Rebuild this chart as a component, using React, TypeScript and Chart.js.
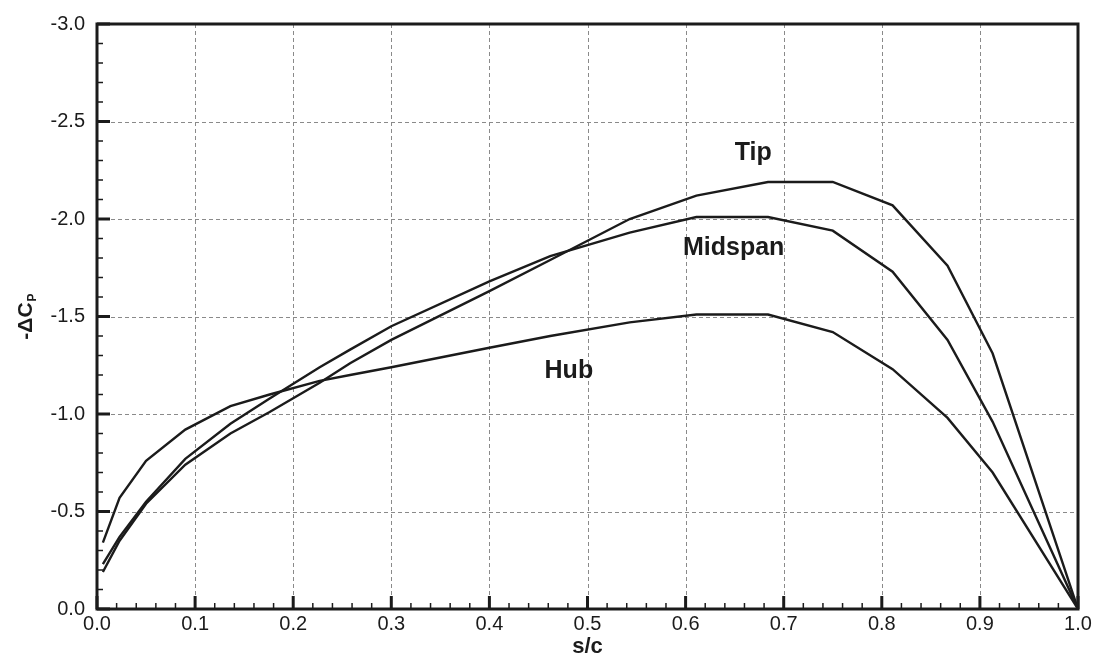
import { useEffect, useRef } from "react";
import { Chart, registerables } from "chart.js";

Chart.register(...registerables);

// Chordwise stations (s/c) shared by the three spanwise sections
const stations = [0.006, 0.023, 0.05, 0.09, 0.136, 0.176, 0.227, 0.258, 0.3, 0.4, 0.462, 0.543, 0.611, 0.684, 0.75, 0.811, 0.867, 0.913, 1.0];

// Blade loading -ΔCp at each station
const hubCp = [-0.34, -0.57, -0.76, -0.92, -1.04, -1.1, -1.17, -1.2, -1.24, -1.34, -1.4, -1.47, -1.51, -1.51, -1.42, -1.23, -0.98, -0.7, 0.0];
const midspanCp = [-0.23, -0.37, -0.55, -0.77, -0.95, -1.08, -1.24, -1.33, -1.45, -1.68, -1.81, -1.93, -2.01, -2.01, -1.94, -1.73, -1.38, -0.96, 0.0];
const tipCp = [-0.19, -0.35, -0.54, -0.74, -0.9, -1.01, -1.16, -1.26, -1.38, -1.63, -1.79, -2.0, -2.12, -2.19, -2.19, -2.07, -1.76, -1.31, 0.0];

// In-plot curve labels: [text, s/c, -ΔCp]
const curveLabels: [string, number, number][] = [
  ["Tip", 0.669, -2.34],
  ["Midspan", 0.649, -1.85],
  ["Hub", 0.481, -1.22],
];

const FONT = "'Liberation Sans', Arial, Helvetica, sans-serif";
const INK = "#1b1b1b";

const toPoints = (ys: number[]) => stations.map((x, i) => ({ x, y: ys[i] }));

const frame = {
  id: "frame",
  beforeDatasetsDraw(chart: any) {
    const { ctx, chartArea: a, scales } = chart;
    const sx = scales.x;
    const sy = scales.y;
    ctx.save();
    ctx.strokeStyle = "#8a8a8a";
    ctx.lineWidth = 1;
    ctx.setLineDash([4, 3]);
    for (let i = 1; i < 10; i++) {
      const px = Math.round(sx.getPixelForValue(i / 10)) + 0.5;
      ctx.beginPath();
      ctx.moveTo(px, a.top);
      ctx.lineTo(px, a.bottom);
      ctx.stroke();
    }
    for (let i = 1; i < 6; i++) {
      const py = Math.round(sy.getPixelForValue(-i / 2)) + 0.5;
      ctx.beginPath();
      ctx.moveTo(a.left, py);
      ctx.lineTo(a.right, py);
      ctx.stroke();
    }
    ctx.restore();
  },
  afterDraw(chart: any) {
    const { ctx, chartArea: a, scales } = chart;
    const sx = scales.x;
    const sy = scales.y;
    ctx.save();
    ctx.strokeStyle = INK;
    ctx.setLineDash([]);

    // inward tick marks on the bottom axis
    for (let i = 0; i <= 50; i++) {
      const major = i % 5 === 0;
      const px = sx.getPixelForValue(i / 50);
      ctx.lineWidth = major ? 3 : 1.5;
      ctx.beginPath();
      ctx.moveTo(px, a.bottom);
      ctx.lineTo(px, a.bottom - (major ? 13 : 6));
      ctx.stroke();
    }
    // inward tick marks on the left axis
    for (let i = 0; i <= 30; i++) {
      const major = i % 5 === 0;
      const py = sy.getPixelForValue(-i / 10);
      ctx.lineWidth = major ? 3 : 1.5;
      ctx.beginPath();
      ctx.moveTo(a.left, py);
      ctx.lineTo(a.left + (major ? 13 : 6), py);
      ctx.stroke();
    }

    // plot frame
    ctx.lineWidth = 3;
    ctx.strokeRect(a.left, a.top, a.right - a.left, a.bottom - a.top);

    // curve labels
    ctx.fillStyle = INK;
    ctx.font = `bold 25px ${FONT}`;
    ctx.textAlign = "center";
    ctx.textBaseline = "middle";
    for (const [text, x, y] of curveLabels) {
      ctx.fillText(text, sx.getPixelForValue(x), sy.getPixelForValue(y));
    }

    // x-axis title
    ctx.font = `bold 22px ${FONT}`;
    ctx.fillText("s/c", (a.left + a.right) / 2, 647);

    // y-axis title with subscript P
    ctx.translate(24, (a.top + a.bottom) / 2);
    ctx.rotate(-Math.PI / 2);
    ctx.textAlign = "left";
    ctx.textBaseline = "alphabetic";
    ctx.font = `bold 21px ${FONT}`;
    const main = "-\u0394C";
    const wMain = ctx.measureText(main).width;
    ctx.font = `bold 12px ${FONT}`;
    const wSub = ctx.measureText("P").width;
    const start = -(wMain + wSub + 1) / 2;
    ctx.font = `bold 21px ${FONT}`;
    ctx.fillText(main, start, 8);
    ctx.font = `bold 12px ${FONT}`;
    ctx.fillText("P", start + wMain + 1, 12);
    ctx.restore();
  },
};

export default function App() {
  const canvasRef = useRef<HTMLCanvasElement | null>(null);

  useEffect(() => {
    if (!canvasRef.current) return;
    const lineStyle = {
      showLine: true,
      borderColor: INK,
      borderWidth: 2.4,
      pointRadius: 0,
      fill: false,
      tension: 0,
    };
    const chart = new Chart(canvasRef.current, {
      type: "scatter",
      data: {
        datasets: [
          { label: "Hub", data: toPoints(hubCp), ...lineStyle },
          { label: "Midspan", data: toPoints(midspanCp), ...lineStyle },
          { label: "Tip", data: toPoints(tipCp), ...lineStyle },
        ],
      },
      options: {
        responsive: false,
        animation: false,
        layout: { padding: { top: 19, right: 25, left: 0, bottom: 0 } },
        plugins: {
          legend: { display: false },
          tooltip: { enabled: false },
        },
        scales: {
          x: {
            type: "linear",
            min: 0,
            max: 1,
            grid: { display: false, drawTicks: false },
            border: { display: false },
            ticks: {
              stepSize: 0.1,
              padding: 3,
              color: INK,
              font: { family: FONT, size: 20 },
              callback: (v: any) => Number(v).toFixed(1),
            },
            afterFit: (s: any) => {
              s.height = 51;
            },
          },
          y: {
            type: "linear",
            min: -3,
            max: 0,
            reverse: true,
            grid: { display: false, drawTicks: false },
            border: { display: false },
            ticks: {
              stepSize: 0.5,
              padding: 12,
              color: INK,
              font: { family: FONT, size: 20 },
              callback: (v: any) => (Math.abs(Number(v)) < 1e-9 ? "0.0" : Number(v).toFixed(1)),
            },
            afterFit: (s: any) => {
              s.width = 97;
            },
          },
        },
      },
      plugins: [frame],
    });
    return () => chart.destroy();
  }, []);

  return (
    <div style={{ position: "absolute", left: 0, top: 0, width: 1103, height: 660, background: "#fff" }}>
      <canvas ref={canvasRef} width={1103} height={660} style={{ display: "block" }} />
    </div>
  );
}
